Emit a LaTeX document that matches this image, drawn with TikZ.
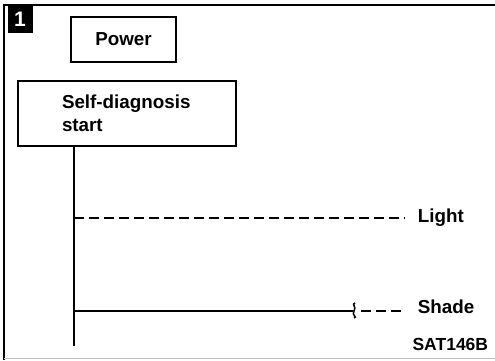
\documentclass[tikz,border=0pt]{standalone}
\usepackage{fontspec}
\setmainfont{Liberation Sans}
\begin{document}
\begin{tikzpicture}
  [x=1pt,y=-1pt,line width=1.8pt,
   txt/.style={font=\bfseries\fontsize{18.8}{23}\selectfont,inner sep=0pt},
   stepbox/.style={draw,line width=2pt,txt},
   dashline/.style={dash pattern=on 10pt off 5pt}]
  \useasboundingbox (0,0) rectangle (495,360);

  % frame
  \draw[line width=1.4pt] (4,360) -- (4,5) -- (495,5);
  \draw[black!25,line width=1pt] (4,358) -- (495,358);

  \node (num) [fill=black,text=white,minimum width=25pt,minimum height=27pt,inner sep=0pt,
    font=\bfseries\fontsize{21}{21}\selectfont] at (20,19) {1};

  \node (power) [stepbox,minimum width=105pt,minimum height=45pt] at (123.5,39.5) {Power};
  \node (diag) [stepbox,text width=130pt,inner xsep=44pt,minimum height=65pt,align=left]
    at (127,113.5) {Self-diagnosis\\start};

  \coordinate (stem) at (74,346);
  \node (light) [txt,anchor=base west] at (417,222) {Light};
  \node (shade) [txt,anchor=base west] at (417,313) {Shade};
  \node (code) [txt,font=\bfseries\fontsize{17.5}{20}\selectfont,anchor=base east] at (489,350) {SAT146B};
  \coordinate (brk) at (353,311);

  \draw (stem |- diag.south) -- (stem);
  \draw[dashline] (stem |- 0,218) -- ([xshift=-12pt]light.west |- 0,218);
  \draw (stem |- brk) -- (brk);
  \draw[line width=1.5pt] ([shift={(2,-8)}]brk) .. controls +(-4,1) and +(3,-4) .. ([shift={(1,0)}]brk)
    .. controls +(-3,4) and +(4,-1) .. ([shift={(1,7)}]brk);
  \draw[dashline] ([xshift=8pt]brk) -- ([xshift=-12pt]shade.west |- brk);
\end{tikzpicture}
\end{document}
